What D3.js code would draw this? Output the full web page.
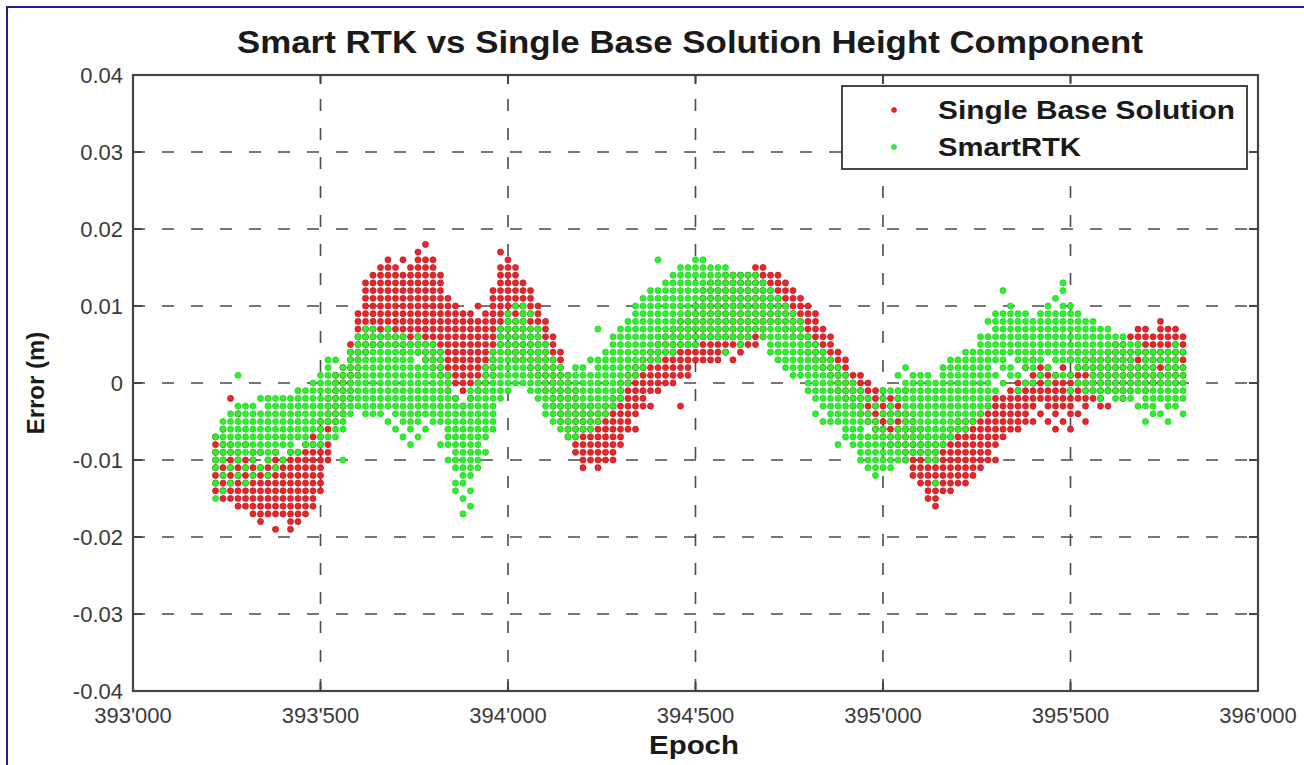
<!DOCTYPE html>
<html>
<head>
<meta charset="utf-8">
<script src="https://cdn.jsdelivr.net/npm/d3@7"></script>
<style>
  html, body { margin: 0; padding: 0; background: #fff; }
  svg { display: block; font-family: "Liberation Sans", Arial, Helvetica, sans-serif; }
</style>
</head>
<body>
<svg id="chart" width="1304" height="765"></svg>
<script>
// epochs of each sampled column (every 20 epochs)
const epochs = [
  393220,393240,393260,393280,393300,393320,393340,393360,393380,393400,
  393420,393440,393460,393480,393500,393520,393540,393560,393580,393600,
  393620,393640,393660,393680,393700,393720,393740,393760,393780,393800,
  393820,393840,393860,393880,393900,393920,393940,393960,393980,394000,
  394020,394040,394060,394080,394100,394120,394140,394160,394180,394200,
  394220,394240,394260,394280,394300,394320,394340,394360,394380,394400,
  394420,394440,394460,394480,394500,394520,394540,394560,394580,394600,
  394620,394640,394660,394680,394700,394720,394740,394760,394780,394800,
  394820,394840,394860,394880,394900,394920,394940,394960,394980,395000,
  395020,395040,395060,395080,395100,395120,395140,395160,395180,395200,
  395220,395240,395260,395280,395300,395320,395340,395360,395380,395400,
  395420,395440,395460,395480,395500,395520,395540,395560,395580,395600,
  395620,395640,395660,395680,395700,395720,395740,395760,395780,395800
];

// height errors in mm, one list per epoch column
const singleBaseMm = [
  [-7,-8,-9,-10,-11,-12,-13,-14],
  [-6,-8,-9,-10,-11,-12,-13,-14,-15],
  [-2,-8,-9,-10,-11,-12,-13,-14,-15],
  [-4,-9,-10,-11,-12,-13,-14,-15,-16],
  [-8,-10,-11,-12,-13,-14,-15,-16],
  [-9,-10,-11,-12,-13,-14,-15,-16,-17],
  [-9,-11,-12,-13,-14,-15,-16,-17,-18],
  [-10,-11,-12,-13,-14,-15,-16,-17],
  [-9,-10,-11,-12,-13,-14,-15,-16,-17,-19],
  [-10,-11,-12,-13,-14,-15,-16,-17],
  [-9,-10,-11,-12,-13,-14,-15,-16,-17,-18,-19],
  [-9,-10,-11,-12,-13,-14,-15,-16,-17,-18],
  [-8,-9,-10,-11,-12,-13,-14,-15,-16,-17],
  [-7,-8,-9,-10,-11,-12,-13,-14,-15,-16],
  [-5,-6,-7,-8,-9,-10,-11,-12,-13,-14],
  [-2,-3,-4,-5,-6,-8,-9,-10],
  [1,0,-1,-2,-3,-4,-5],
  [2,1,0,-1,-2,-3,-4],
  [5,4,3,2,1,0,-1,-2],
  [9,8,7,6,5,4,3,2,1],
  [13,12,11,10,9,8,7,6,5,4],
  [14,13,12,11,10,9,8,7,6,5],
  [15,14,13,12,11,10,9,8,7,6,5],
  [16,15,14,13,12,11,10,9,8,7,6],
  [15,14,13,12,11,10,9,8,7,6,5],
  [16,14,13,12,11,10,9,8,7,6,5,4],
  [15,14,13,12,11,10,9,8,7,6,5],
  [17,16,15,14,13,12,11,10,9,8,7,6,5,4],
  [18,16,15,14,13,12,11,10,9,8,7,6,5,4,3],
  [16,15,14,13,12,11,10,9,8,7,6,5,4,3,2],
  [14,13,12,11,10,9,8,7,6,5,4,3,2,1],
  [11,10,9,8,7,6,5,4,3,2,1,0,-1],
  [10,9,8,7,6,5,4,3,2,1,0,-2],
  [9,8,7,6,5,4,3,2,1,0,-1,-3],
  [9,8,7,6,5,4,3,2,1,0,-2],
  [10,8,7,6,5,4,3,2,1,0,-1],
  [9,8,7,6,5,4,3,2,1,0],
  [12,11,10,9,8,7,6,5,4,3,2,1],
  [17,15,14,13,12,11,10,9,8,7,6,5],
  [16,15,14,13,12,11,10,9,8,7,6,5,4],
  [15,14,13,12,11,10,9,8,7,6,5,4,3],
  [13,12,11,10,9,8,7,6,5,4,3],
  [12,11,10,9,8,7,6,5,4,3,2],
  [10,9,8,7,6,5,4,3,2,1],
  [8,7,6,5,4,3,2,1,0,-1],
  [6,5,4,3,2,1,0,-1,-2,-3],
  [4,3,2,1,0,-1,-2,-3,-4,-5],
  [1,0,-1,-2,-3,-4,-5,-6,-7],
  [-1,-2,-3,-4,-5,-6,-7,-8,-9],
  [-3,-4,-5,-6,-7,-8,-9,-10,-11],
  [-3,-4,-5,-6,-7,-8,-9,-10],
  [-4,-5,-6,-7,-8,-9,-10,-11],
  [-3,-4,-5,-6,-7,-8,-9,-10],
  [-2,-3,-4,-5,-6,-7,-8,-9,-10],
  [0,-1,-2,-3,-4,-5,-6,-7,-8],
  [1,0,-1,-2,-3,-4,-5,-6],
  [2,1,0,-1,-2,-3,-4,-6],
  [3,2,1,0,-1,-2,-3],
  [4,3,2,1,0,-1,-3],
  [5,4,3,2,1,0,-1],
  [6,5,4,3,2,1,0],
  [7,6,5,4,3,2,1,0],
  [8,7,6,5,4,3,2,1,-3],
  [9,8,7,6,5,4,3,2,1],
  [10,9,8,7,6,5,4,3],
  [12,11,10,9,8,7,6,5,4,3],
  [13,12,11,10,9,8,7,6,5,4,3],
  [13,12,11,10,9,8,7,6,5,4,3],
  [14,13,12,11,10,9,8,7,6,5,4],
  [14,13,12,11,10,9,8,7,6,5,3],
  [14,13,12,11,10,9,8,7,6,5,4],
  [14,13,12,11,10,9,8,7,6,5],
  [15,14,13,12,11,10,9,8,7,6,5],
  [15,14,13,12,11,10,9,8,7,6],
  [14,13,12,11,10,9,8],
  [14,13,12,11,10,9,8],
  [13,12,11,10,9,8,7],
  [12,11,10,9,8,7,6],
  [11,10,9,8,7,6],
  [10,9,8,7,6,5,4],
  [9,8,7,6,5,4,3],
  [7,6,5,4,3,2],
  [6,5,4,3,2,1],
  [4,3,2,1,0,-1],
  [3,2,1,0,-1,-2],
  [1,0,-1,-2,-3],
  [1,0,-1,-2,-3,-4],
  [0,-1,-2,-3,-4,-5],
  [-1,-2,-3,-4,-5,-6],
  [-1,-2,-3,-4,-5,-6,-7],
  [-2,-3,-4,-5,-6,-7,-8],
  [-2,-3,-4,-5,-6,-7,-8],
  [-1,-4,-5,-6,-7,-8,-9,-10],
  [-5,-6,-7,-8,-9,-10,-11,-12],
  [-6,-7,-8,-9,-10,-11,-12,-13],
  [-7,-8,-9,-10,-11,-12,-13,-14,-15],
  [-8,-9,-10,-11,-12,-13,-14,-15,-16],
  [-7,-8,-9,-10,-11,-12,-13,-14],
  [-6,-7,-8,-9,-10,-11,-12,-13,-14],
  [-5,-6,-7,-8,-9,-10,-11,-12,-13],
  [-5,-6,-7,-8,-9,-10,-11,-12,-13],
  [-5,-6,-7,-8,-9,-10,-11,-12],
  [-4,-5,-6,-7,-8,-9,-10,-11],
  [-3,-4,-5,-6,-7,-8,-9,-10],
  [-2,-3,-4,-5,-6,-7,-8,-10],
  [-2,-3,-4,-5,-6,-7],
  [-1,-2,-3,-4,-5,-6],
  [0,-1,-2,-3,-4,-5,-6],
  [2,0,-1,-2,-3,-4,-5],
  [3,1,0,-1,-2,-3,-5],
  [2,1,0,-1,-2,-4],
  [2,1,0,-1,-2,-3,-5],
  [1,0,-1,-2,-3,-4,-6],
  [2,0,-1,-2,-3,-5],
  [3,1,0,-1,-2,-3,-4,-6],
  [4,2,1,0,-1,-2,-4],
  [3,2,1,0,-1,-2,-3,-5],
  [4,3,2,1,0,-1,-2],
  [3,2,1,0,-1,-2,-3],
  [4,3,2,1,0,-1,-3],
  [5,4,3,2,1,0,-1],
  [5,4,3,2,1,0,-1,-2],
  [6,4,3,2,1,0,-1],
  [7,6,5,4,3,2,1,0],
  [7,6,5,4,3,2,1,0,-1],
  [6,5,4,3,2,1,0],
  [8,7,6,5,4,3,2,1,0],
  [7,6,5,4,3,2,1,0],
  [7,6,5,4,3,2,1,0],
  [6,5,4,3,2,1]
];

const smartRtkMm = [
  [-7,-9,-10,-11,-13,-15],
  [-5,-6,-7,-8,-9,-10,-12,-14],
  [-4,-5,-6,-7,-8,-9,-11,-13],
  [1,-3,-4,-5,-6,-7,-8,-9,-10,-12],
  [-3,-4,-5,-6,-7,-8,-9,-11,-13],
  [-3,-4,-5,-6,-7,-8,-9,-10,-12],
  [-2,-4,-5,-6,-7,-8,-9,-11],
  [-2,-3,-4,-5,-6,-7,-8,-9,-10,-12],
  [-2,-3,-4,-5,-6,-7,-8,-9,-11],
  [-2,-3,-4,-5,-6,-7,-8,-10],
  [-2,-3,-4,-5,-6,-7,-8,-9],
  [-1,-2,-3,-4,-5,-6,-7,-9],
  [-1,-2,-3,-4,-5,-6,-7,-8],
  [0,-1,-2,-3,-4,-5,-6,-8],
  [1,0,-1,-2,-3,-4,-5,-6,-7,-8],
  [3,2,1,0,-1,-2,-3,-4,-5,-7],
  [3,1,0,-1,-2,-3,-4,-5,-6,-7],
  [2,1,0,-1,-2,-3,-4,-5,-6,-10],
  [4,3,2,1,0,-1,-2,-3,-4],
  [6,5,4,3,2,1,0,-1,-2,-3],
  [7,6,5,4,3,2,1,0,-1,-2,-3,-4],
  [7,6,5,4,3,2,1,0,-1,-2,-3,-4],
  [6,5,4,3,2,1,0,-1,-2,-3,-4],
  [7,6,5,4,3,2,1,0,-1,-2,-3,-5],
  [6,5,4,3,2,1,0,-1,-2,-3,-4,-6],
  [6,5,4,3,2,1,0,-1,-2,-3,-4,-5,-7],
  [5,4,3,2,1,0,-1,-2,-3,-4,-5,-6,-8],
  [6,5,4,2,1,0,-1,-2,-3,-4,-5,-7],
  [5,4,3,2,1,0,-1,-2,-3,-4,-6],
  [5,4,3,2,1,0,-1,-2,-3,-4,-5],
  [4,3,2,1,0,-1,-2,-3,-4,-5,-8],
  [1,0,-1,-2,-3,-4,-5,-6,-7,-8,-10],
  [-2,-3,-4,-5,-6,-7,-8,-9,-10,-11,-13,-14],
  [-3,-4,-5,-6,-7,-8,-9,-10,-11,-12,-13,-15,-17],
  [-1,-2,-3,-4,-5,-6,-7,-8,-9,-10,-11,-12,-14,-16],
  [0,-1,-2,-3,-4,-5,-6,-7,-8,-9,-10,-11],
  [2,1,0,-1,-2,-3,-4,-5,-6,-7,-9],
  [4,3,2,1,0,-1,-2,-3,-4,-5,-6],
  [7,6,5,4,3,2,1,0,-1,-2],
  [9,8,7,6,5,4,3,2,1,0,-1],
  [10,8,7,6,5,4,3,2,1,0],
  [10,9,8,7,6,5,4,3,2,1,0],
  [9,7,6,5,4,3,2,1,0,-1],
  [7,6,5,4,3,2,1,0,-1,-2],
  [5,4,3,2,1,0,-1,-2,-3,-4],
  [3,2,1,0,-1,-2,-3,-4,-5],
  [2,1,0,-1,-2,-3,-4,-5,-6],
  [1,0,-1,-2,-3,-4,-5,-6,-7],
  [2,1,0,-1,-2,-3,-4,-5,-6,-7],
  [2,1,0,-1,-2,-3,-4,-5,-6],
  [3,1,0,-1,-2,-3,-4,-5,-6],
  [7,3,2,1,0,-1,-2,-3,-4,-5],
  [4,3,2,1,0,-1,-2,-3,-4],
  [6,5,4,3,2,1,0,-1,-2,-3],
  [7,6,5,4,3,2,1,0,-1,-2],
  [8,7,6,5,4,3,2,1,0],
  [10,9,8,7,6,5,4,3,2,1],
  [11,10,9,8,7,6,5,4,3,2],
  [12,11,10,9,8,7,6,5,4,3],
  [16,12,11,10,9,8,7,6,5,4,3],
  [13,12,11,10,9,8,7,6,5,4],
  [14,13,12,11,10,9,8,7,6,5,4],
  [15,14,13,12,11,10,9,8,7,6,5],
  [15,14,13,12,11,10,9,8,7,6,5],
  [16,15,14,13,12,11,10,9,8,7,6,5],
  [16,15,14,13,12,11,10,9,8,7,6],
  [15,14,13,12,11,10,9,8,7,6],
  [15,14,13,12,11,10,9,8,7,6],
  [15,14,13,12,11,10,9,8,7,6,4],
  [14,13,12,11,10,9,8,7,6],
  [14,13,12,11,10,9,8,7,6,5],
  [14,13,12,11,10,9,8,7,6],
  [14,13,12,11,10,9,8,7],
  [13,12,11,10,9,8,7,6],
  [12,11,10,9,8,7,6,5,4],
  [11,10,9,8,7,6,5,4,3],
  [10,9,8,7,6,5,4,3,2],
  [9,8,7,6,5,4,3,2,1],
  [8,7,6,5,4,3,2,1],
  [6,5,4,3,2,1,0,-1],
  [5,4,3,2,1,0,-1,-2,-4],
  [4,3,2,1,0,-1,-2,-3,-5],
  [3,2,1,0,-1,-2,-3,-4,-5],
  [2,1,0,-1,-2,-3,-4,-5,-8],
  [1,0,-1,-2,-3,-4,-5,-6,-7],
  [0,-1,-2,-3,-4,-5,-6,-7,-8],
  [-1,-2,-3,-4,-5,-6,-7,-8,-9,-10],
  [-2,-4,-5,-7,-8,-9,-10,-11],
  [-3,-5,-6,-7,-8,-9,-10,-11,-12],
  [-1,-2,-4,-6,-7,-8,-9,-10,-11],
  [-1,-3,-4,-5,-7,-8,-9,-10,-11],
  [1,-1,-2,-4,-6,-7,-8,-9,-10],
  [2,0,-1,-2,-3,-4,-5,-6,-7,-8,-9,-10],
  [1,0,-1,-2,-3,-4,-5,-6,-7,-8,-9],
  [1,0,-1,-2,-3,-4,-5,-6,-7,-8,-9],
  [1,0,-1,-2,-3,-4,-5,-6,-7,-8,-9,-10],
  [0,-1,-2,-3,-4,-5,-6,-7,-8,-9,-10,-13],
  [2,1,0,-1,-2,-3,-4,-5,-6,-7,-8],
  [3,2,1,0,-1,-2,-3,-4,-5,-6,-7],
  [3,2,1,0,-1,-2,-3,-4,-5,-6],
  [4,3,2,1,0,-1,-2,-3,-4,-5,-6],
  [4,3,2,1,0,-1,-2,-3,-4,-5],
  [6,5,4,3,2,1,0,-1,-2,-3,-4],
  [8,6,5,4,3,2,1,0,-1,-2,-3],
  [9,8,7,6,5,4,3,1,-1],
  [12,9,8,7,6,5,4,3,2,0],
  [10,9,8,7,6,5,4,2,1],
  [9,8,7,6,5,4,3,1,-1],
  [9,8,7,6,5,4,3,2,0],
  [8,7,6,5,4,3,2,0],
  [9,8,7,6,5,4,3,1],
  [10,9,8,7,6,5,4,2,0],
  [11,9,8,7,6,5,4,3,1],
  [13,12,10,9,8,7,6,5,4,3,1],
  [10,9,8,7,6,5,4,3,1,-1],
  [9,8,7,6,5,4,3,2,0],
  [8,7,6,5,4,3,2,0,-1],
  [8,7,6,5,4,3,2,1,0,-1],
  [7,6,5,4,3,2,1,0,-1,-2],
  [7,6,5,4,3,2,1,0,-1],
  [6,5,4,3,2,1,0,-1,-2],
  [6,5,4,3,2,1,0,-1,-2],
  [5,4,3,2,1,0,-1,-2],
  [5,4,2,1,0,-1,-3],
  [4,3,2,1,0,-1,-2,-3,-5],
  [4,3,2,1,0,-1,-2,-3,-4],
  [4,3,1,0,-1,-2,-4],
  [4,3,2,1,0,-1,-2,-3,-5],
  [5,4,3,2,1,0,-1,-2,-3],
  [4,2,1,0,-1,-2,-4]
];

const xTicks = [393000, 393500, 394000, 394500, 395000, 395500, 396000];
const yTicks = [-0.04, -0.03, -0.02, -0.01, 0, 0.01, 0.02, 0.03, 0.04];
const seriesNames = ["Single Base Solution", "SmartRTK"];
const seriesColors = [
  { fill: "#e6262a", stroke: "#b0181c" },
  { fill: "#2ff02f", stroke: "#1fc41f" }
];

const svg = d3.select("#chart");
const box = { left: 133, right: 1258, top: 75, bottom: 691 };

const x = d3.scaleLinear().domain([393000, 396000]).range([box.left, box.right]);
const y = d3.scaleLinear().domain([-0.04, 0.04]).range([box.bottom, box.top]);

const fmtX = d3.formatLocale({ decimal: ".", thousands: "'", grouping: [3], currency: ["", ""] }).format(",");
const fmtY = v => (Math.abs(v) < 1e-9 ? "0" : v.toFixed(2));

// outer figure frame (blue, cropped at right/bottom)
svg.append("path")
  .attr("d", "M7,765 L7,7 L1304,7")
  .attr("fill", "none")
  .attr("stroke", "#1d1d8f")
  .attr("stroke-width", 2);

// dashed grid
const grid = svg.append("g").attr("stroke", "#4a4a4a").attr("stroke-width", 1.6).attr("stroke-dasharray", "12,17");
grid.selectAll(".gx").data(xTicks.slice(1, -1)).join("line")
  .attr("x1", d => x(d)).attr("x2", d => x(d))
  .attr("y1", box.bottom).attr("y2", box.top);
grid.selectAll(".gy").data(yTicks.slice(1, -1)).join("line")
  .attr("y1", d => y(d)).attr("y2", d => y(d))
  .attr("x1", box.left).attr("x2", box.right);

// points: single base first, smartRTK on top
const toPoints = cols => epochs.flatMap((e, i) => cols[i].map(mm => ({ e, v: mm / 1000 })));
[singleBaseMm, smartRtkMm].forEach((cols, k) => {
  svg.append("g")
    .selectAll("circle")
    .data(toPoints(cols))
    .join("circle")
    .attr("cx", d => x(d.e))
    .attr("cy", d => y(d.v))
    .attr("r", 3.1)
    .attr("fill", seriesColors[k].fill)
    .attr("stroke", seriesColors[k].stroke)
    .attr("stroke-width", 0.6);
});

// axes box + inward ticks
const axes = svg.append("g").attr("stroke", "#444");
axes.append("rect")
  .attr("x", box.left).attr("y", box.top)
  .attr("width", box.right - box.left).attr("height", box.bottom - box.top)
  .attr("fill", "none").attr("stroke-width", 2.2);
const tl = 9;
axes.selectAll(".tb").data(xTicks).join("line")
  .attr("x1", d => x(d)).attr("x2", d => x(d))
  .attr("y1", box.bottom).attr("y2", box.bottom - tl).attr("stroke-width", 2);
axes.selectAll(".tt").data(xTicks).join("line")
  .attr("x1", d => x(d)).attr("x2", d => x(d))
  .attr("y1", box.top).attr("y2", box.top + tl).attr("stroke-width", 2);
axes.selectAll(".tlft").data(yTicks).join("line")
  .attr("y1", d => y(d)).attr("y2", d => y(d))
  .attr("x1", box.left).attr("x2", box.left + tl).attr("stroke-width", 2);
axes.selectAll(".trgt").data(yTicks).join("line")
  .attr("y1", d => y(d)).attr("y2", d => y(d))
  .attr("x1", box.right).attr("x2", box.right - tl).attr("stroke-width", 2);

// tick labels
svg.append("g").selectAll("text").data(xTicks).join("text")
  .attr("x", d => x(d)).attr("y", 723)
  .attr("text-anchor", "middle")
  .attr("font-size", 22).attr("fill", "#3a3a3a")
  .text(fmtX);
svg.append("g").selectAll("text").data(yTicks).join("text")
  .attr("x", 123).attr("y", d => y(d) + 8)
  .attr("text-anchor", "end")
  .attr("font-size", 22).attr("fill", "#3a3a3a")
  .text(fmtY);

// titles
svg.append("text")
  .attr("x", 690).attr("y", 53)
  .attr("text-anchor", "middle")
  .attr("font-size", 31).attr("font-weight", "bold").attr("fill", "#1a1a1a")
  .attr("textLength", 906).attr("lengthAdjust", "spacingAndGlyphs")
  .text("Smart RTK vs Single Base Solution Height Component");
svg.append("text")
  .attr("x", 694).attr("y", 754)
  .attr("text-anchor", "middle")
  .attr("font-size", 26).attr("font-weight", "bold").attr("fill", "#1a1a1a")
  .attr("textLength", 90).attr("lengthAdjust", "spacingAndGlyphs")
  .text("Epoch");
svg.append("text")
  .attr("transform", "translate(44,383) rotate(-90)")
  .attr("text-anchor", "middle")
  .attr("font-size", 24).attr("font-weight", "bold").attr("fill", "#1a1a1a")
  .text("Error (m)");

// legend
const lg = svg.append("g");
lg.append("rect")
  .attr("x", 842).attr("y", 86).attr("width", 405).attr("height", 83)
  .attr("fill", "#fff").attr("stroke", "#333").attr("stroke-width", 1.8);
const legendRows = [{ y: 110, len: 297 }, { y: 147, len: 143 }];
seriesNames.forEach((name, k) => {
  lg.append("circle")
    .attr("cx", 894).attr("cy", legendRows[k].y).attr("r", 2.5)
    .attr("fill", seriesColors[k].fill).attr("stroke", seriesColors[k].stroke).attr("stroke-width", 0.6);
  lg.append("text")
    .attr("x", 938).attr("y", legendRows[k].y + 9)
    .attr("font-size", 26).attr("font-weight", "bold").attr("fill", "#1a1a1a")
    .attr("textLength", legendRows[k].len).attr("lengthAdjust", "spacingAndGlyphs")
    .text(name);
});
</script>
</body>
</html>
